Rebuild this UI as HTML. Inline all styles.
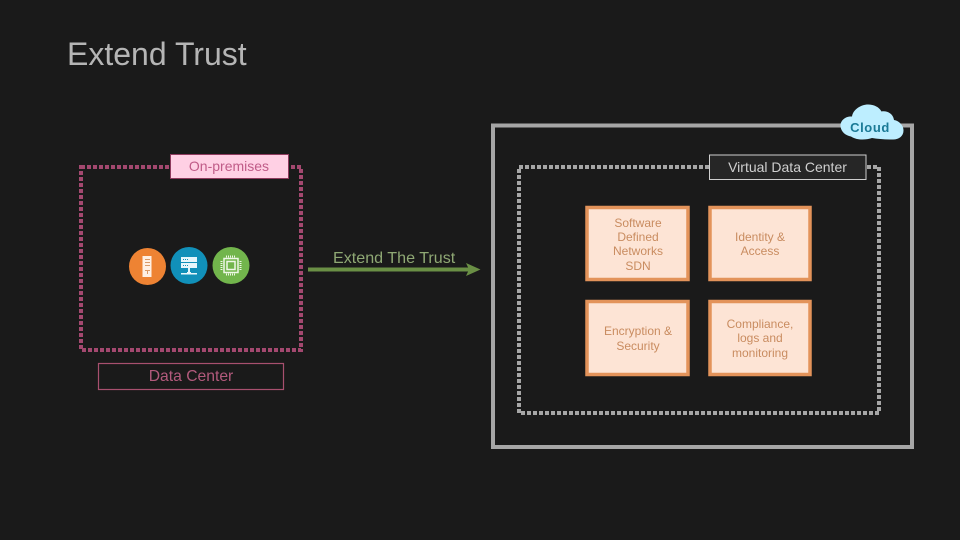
<!DOCTYPE html>
<html><head><meta charset="utf-8"><style>
html,body{margin:0;padding:0;background:#1a1a1a}
svg{display:block}
text{font-family:"Liberation Sans",sans-serif}
</style></head><body>
<svg width="960" height="540" viewBox="0 0 960 540" xmlns="http://www.w3.org/2000/svg">
<rect width="960" height="540" fill="#1a1a1a"/>
<text x="67" y="65" font-size="32" fill="#b5b5b5">Extend Trust</text>

<!-- Cloud outer -->
<rect x="493" y="125.500" width="419" height="321.500" fill="none" stroke="#a6a6a6" stroke-width="4"/>
<rect x="519" y="167" width="360" height="246" fill="none" stroke="#a6a6a6" stroke-width="4" stroke-dasharray="4 2"/>

<!-- On-premises -->
<rect x="81" y="167" width="220" height="183" fill="none" stroke="#a3486f" stroke-width="4" stroke-dasharray="4 2"/>
<rect x="170.500" y="154.500" width="118" height="24" fill="#ffd0e4" stroke="#8e3b5e" stroke-width="1"/>
<text x="229" y="171" font-size="14" fill="#c05c88" text-anchor="middle">On-premises</text>

<!-- Icons -->
<circle cx="147.500" cy="266.500" r="18.500" fill="#ee8333"/>
<rect x="142.500" y="256" width="9" height="21" fill="#fff0e4"/>
<g fill="#d99a68"><rect x="145" y="259" width="5" height="1"/><rect x="145" y="262" width="5" height="1"/><rect x="145" y="265" width="5" height="1"/><rect x="145" y="270" width="5" height="1"/><rect x="147" y="270" width="1" height="4"/></g>

<circle cx="189" cy="265.500" r="18.500" fill="#1190b9"/>
<g fill="#e6f6fb"><rect x="181" y="257" width="16" height="5"/><rect x="181" y="263" width="16" height="5"/><rect x="188" y="268" width="2" height="5"/><rect x="181" y="273" width="6" height="1.500"/><rect x="191" y="273" width="6" height="1.500"/><rect x="187" y="272" width="4" height="2.500"/></g>
<g fill="#1190b9"><rect x="183" y="259" width="1" height="1"/><rect x="185" y="259" width="1" height="1"/><rect x="187" y="259" width="1" height="1"/><rect x="183" y="265" width="1" height="1"/><rect x="185" y="265" width="1" height="1"/><rect x="187" y="265" width="1" height="1"/></g>

<circle cx="231" cy="265.500" r="18.500" fill="#72b54c"/>
<rect x="224" y="258.500" width="14" height="14" fill="none" stroke="#eef7e6" stroke-width="1.500"/>
<rect x="227" y="261.500" width="8" height="8" fill="none" stroke="#eef7e6" stroke-width="1.500"/>
<g stroke="#eef7e6" stroke-width="2" stroke-dasharray="1 1" fill="none"><path d="M226 256.500H236M226 274.500H236M221.500 261V271M240.500 261V271"/></g>

<!-- Data Center -->
<rect x="98.500" y="363.500" width="185" height="26" fill="none" stroke="#a8506f" stroke-width="1.200"/>
<text x="191" y="381" font-size="15.700" fill="#b25a7c" text-anchor="middle">Data Center</text>

<!-- Arrow -->
<text x="333" y="263" font-size="16.100" fill="#8fa874">Extend The Trust</text>
<line x1="308" y1="269.500" x2="472" y2="269.500" stroke="#6a8f45" stroke-width="4"/>
<path d="M466 263 L480.500 269.500 L466 276 L469 269.500 Z" fill="#6a8f45"/>

<!-- Virtual Data Center -->
<rect x="709.500" y="155" width="156.500" height="24.500" fill="#262626" stroke="#cfcfcf" stroke-width="1"/>
<text x="787.500" y="172" font-size="14" fill="#cfcfcf" text-anchor="middle">Virtual Data Center</text>

<!-- Orange boxes -->
<g fill="#fde4d5" stroke="#e3935a" stroke-width="3.500">
<rect x="587" y="207.500" width="101" height="72"/>
<rect x="710" y="207.500" width="100" height="72"/>
<rect x="587" y="301.500" width="101" height="73"/>
<rect x="710" y="301.500" width="100" height="73"/>
</g>
<g font-size="12" fill="#c98c60" text-anchor="middle">
<text x="638" y="227">Software</text>
<text x="638" y="241">Defined</text>
<text x="638" y="255">Networks</text>
<text x="638" y="270">SDN</text>
<text x="760" y="241">Identity &amp;</text>
<text x="760" y="255">Access</text>
<text x="638" y="335">Encryption &amp;</text>
<text x="638" y="350">Security</text>
<text x="760" y="328">Compliance,</text>
<text x="760" y="342">logs and</text>
<text x="760" y="357">monitoring</text>
</g>

<!-- Cloud -->
<path d="M851 136.500 C845 135.500 840.500 131 840.500 125.500 C840.500 120 846 116 852 116.500 C853 109.500 861 104.500 868 104.500 C874 104.500 879 107 881.500 111.500 C887 110.500 893 113.500 894 120 C899.500 121 903.500 125.500 903.500 130.500 C903.500 136 899 139.500 893 139.500 C885 139.500 878 139 872 138 C866 140 857 140.500 851 136.500 Z" fill="#bdeeff"/>
<text x="870" y="132" font-size="13" font-weight="bold" letter-spacing="0.600" fill="#1a7a96" text-anchor="middle">Cloud</text>
</svg>
</body></html>
